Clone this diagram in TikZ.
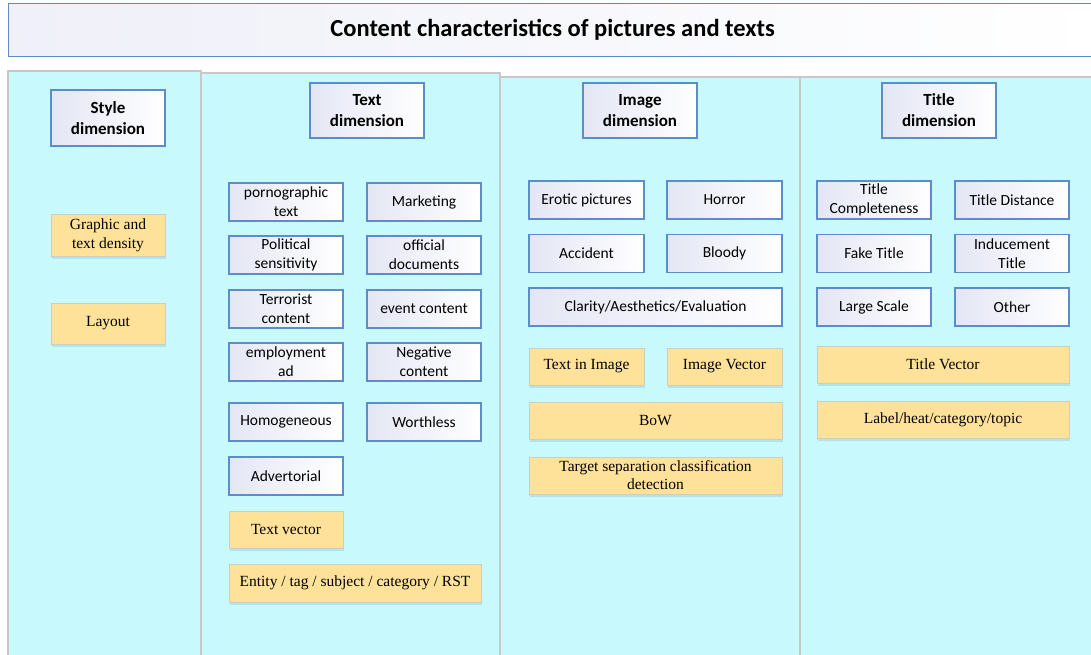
\documentclass[tikz,border=0pt]{standalone}
\usepackage{fontspec}
\setmainfont{Carlito}
\newfontfamily\serifbox{Liberation Serif}
\usetikzlibrary{shadows}
\definecolor{panelfill}{HTML}{C8FAFD}
\definecolor{panelline}{HTML}{C8C8C8}
\definecolor{boxline}{HTML}{5B8DCA}
\definecolor{lav}{HTML}{E4E6F4}
\definecolor{yel}{HTML}{FFE29A}
\definecolor{yelline}{HTML}{CFCDC0}
\definecolor{shad}{HTML}{A8DCEE}
\tikzset{
  panel/.style={fill=panelfill, draw=panelline, line width=1.5pt},
  bluebox/.style={draw=boxline, line width=1.1pt, left color=lav, right color=white,
    align=center, inner sep=1pt, font=\fontsize{15.5}{19}\selectfont, text=black},
  hdrbox/.style={bluebox, minimum width=114pt, minimum height=55pt,
    font=\bfseries\fontsize{17}{21}\selectfont},
  yelbox/.style={draw=yelline, line width=1pt, fill=yel, align=center, inner sep=1pt,
    drop shadow={shadow xshift=1pt, shadow yshift=-3pt, fill=shad, opacity=0.7},
    font=\serifbox\fontsize{15.5}{19}\selectfont, text=black},
  sm/.style={minimum width=114pt, minimum height=38pt},
  wide/.style={minimum width=252pt, minimum height=38pt}
}
\begin{document}
\begin{tikzpicture}[x=1pt,y=-1pt]
\useasboundingbox (0,0) rectangle (1091,655);
\clip (0,0) rectangle (1091,655);
\fill[white] (0,0) rectangle (1091,655);
% title bar
\node[draw=boxline, line width=1.3pt, left color=lav!60, right color=white,
  minimum width=1094pt, minimum height=53pt, anchor=north west,
  font=\bfseries\fontsize{24.5}{28}\selectfont] (title) at (8,3)
  {\hspace*{-6pt}Content characteristics of pictures and texts};
% panels
\draw[panel] (800,77) rectangle (1100,670);
\draw[panel] (500,77) rectangle (800,670);
\draw[panel] (201,73) rectangle (500,670);
\draw[panel] (8,71) rectangle (201,670);
% headers
\node[hdrbox, minimum height=56pt] (hs) at (108,118) {Style\\dimension};
\node[hdrbox] (ht) at (367,110.5) {Text\\dimension};
\node[hdrbox] (hi) at (640,110.5) {Image\\dimension};
\node[hdrbox] (hti) at (939,110.5) {Title\\dimension};
% style panel
\node[yelbox, sm, minimum height=42pt] (s1) at (108,235) {Graphic and\\text density};
\node[yelbox, sm, minimum height=41pt] (s2) at (108,323.5) {Layout};
% text panel
\node[bluebox, sm] (t1) at (286,202) {pornographic\\text};
\node[bluebox, sm] (t2) at (424,202) {Marketing};
\node[bluebox, sm] (t3) at (286,255) {Political\\sensitivity};
\node[bluebox, sm] (t4) at (424,255) {official\\documents};
\node[bluebox, sm] (t5) at (286,309) {Terrorist\\content};
\node[bluebox, sm] (t6) at (424,309) {event content};
\node[bluebox, sm] (t7) at (286,362) {employment\\ad};
\node[bluebox, sm] (t8) at (424,362) {Negative\\content};
\node[bluebox, sm] (t9) at (286,422) {Homogeneous};
\node[bluebox, sm] (t10) at (424,422) {Worthless};
\node[bluebox, sm] (t11) at (286,476) {Advertorial};
\node[yelbox, sm, minimum height=37pt] (t12) at (286,529.5) {Text vector};
\node[yelbox, wide] (t13) at (355,583) {Entity / tag / subject / category / RST};
% image panel
\node[bluebox, sm, minimum width=115pt] (i1) at (586.5,200) {Erotic pictures};
\node[bluebox, sm, minimum width=115pt] (i2) at (724.5,200) {Horror};
\node[bluebox, sm, minimum width=115pt] (i3) at (586.5,253.5) {Accident};
\node[bluebox, sm, minimum width=115pt] (i4) at (724.5,253.5) {Bloody};
\node[bluebox, wide, minimum width=253pt] (i5) at (655.5,307) {Clarity/Aesthetics/Evaluation};
\node[yelbox, sm, minimum width=115pt, minimum height=37pt] (i6) at (586.5,366.5) {Text in Image};
\node[yelbox, sm, minimum width=115pt, minimum height=37pt] (i7) at (724.5,366.5) {Image Vector};
\node[yelbox, wide, minimum width=253pt, minimum height=37pt] (i8) at (655.5,420.5) {BoW};
\node[yelbox, wide, minimum width=253pt, minimum height=37pt,
  font=\serifbox\fontsize{15.5}{18}\selectfont] (i9) at (655.5,475.5) {Target separation classification\\detection};
% title panel
\node[bluebox, sm] (r1) at (874,200) {Title\\Completeness};
\node[bluebox, sm] (r2) at (1012,200) {Title Distance};
\node[bluebox, sm] (r3) at (874,253.5) {Fake Title};
\node[bluebox, sm] (r4) at (1012,253.5) {Inducement\\Title};
\node[bluebox, sm] (r5) at (874,307) {Large Scale};
\node[bluebox, sm] (r6) at (1012,307) {Other};
\node[yelbox, wide, minimum height=37pt] (r7) at (943,364.5) {Title Vector};
\node[yelbox, wide, minimum height=37pt] (r8) at (943,419.5) {Label/heat/category/topic};
\end{tikzpicture}
\end{document}
